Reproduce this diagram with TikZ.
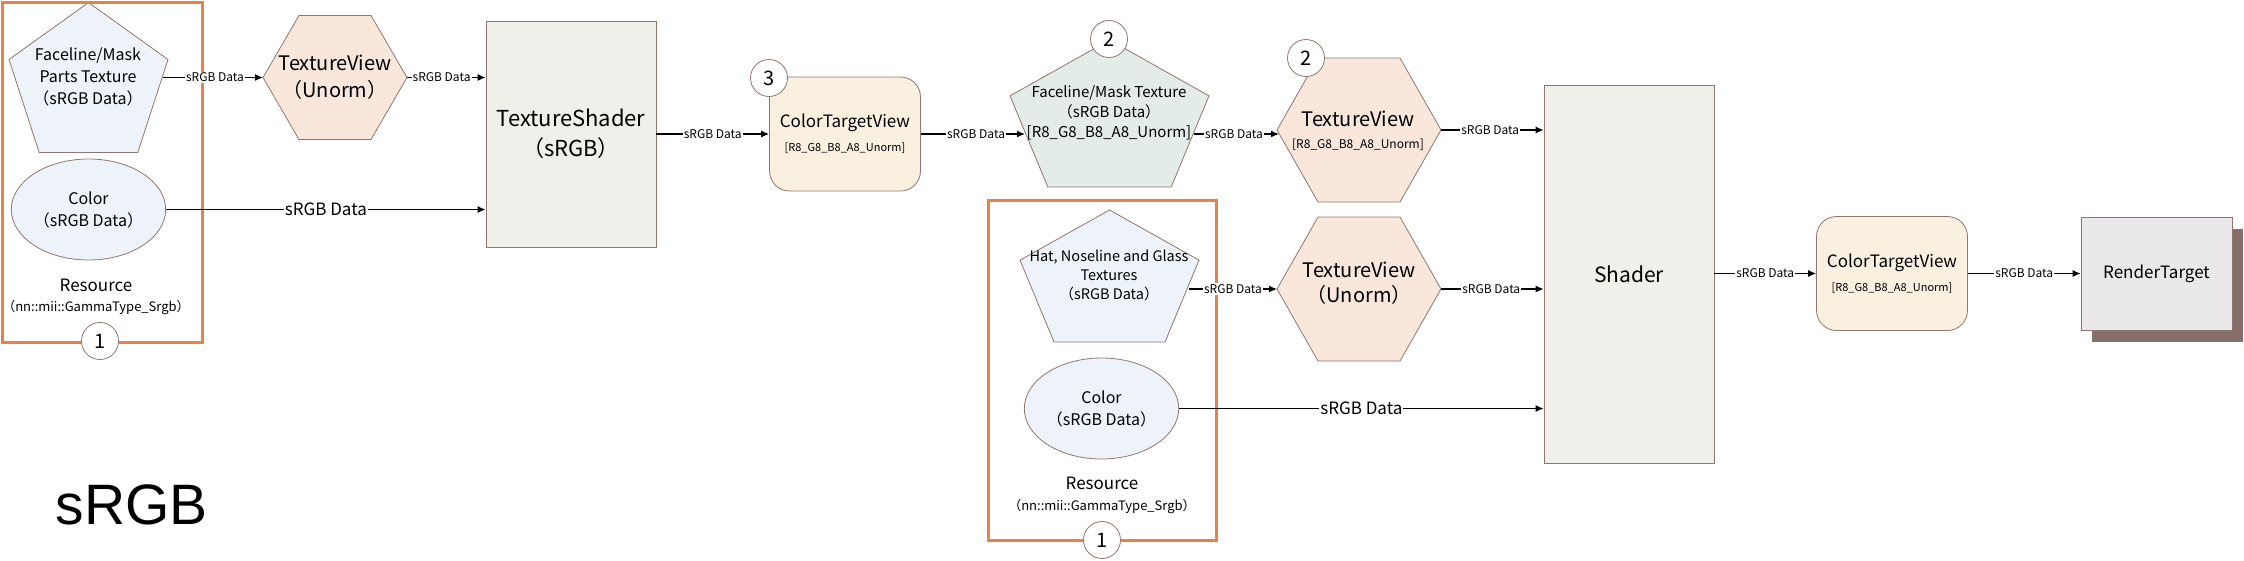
\documentclass[tikz,border=0pt]{standalone}
\usepackage{fontspec}
\setmainfont{Noto Sans CJK JP}
\newfontfamily\arialf{Liberation Sans}
\usetikzlibrary{arrows.meta,calc,shapes.geometric}
\pgfdeclarelayer{background}
\pgfsetlayers{background,main}
\definecolor{edgec}{HTML}{8C7870}
\definecolor{resorange}{HTML}{E6824A}
\definecolor{fillblue}{HTML}{EEF3FA}
\definecolor{fillgreen}{HTML}{E4ECE8}
\definecolor{fillpeach}{HTML}{F9E7DC}
\definecolor{fillgray}{HTML}{F0F0EA}
\definecolor{fillcream}{HTML}{FAF0E0}
\definecolor{fillrt}{HTML}{EAE8EA}
\definecolor{shadowc}{HTML}{857068}
\newcommand\fs[2]{\fontsize{#1}{#2}\selectfont}
\newcommand\drawpent[2]{%
  \begin{pgfonlayer}{background}
  \draw[shp, fill=#2] (#1.north) -- ($(#1.north west)!0.38!(#1.south west)$)
    -- ($(#1.south west)!0.19!(#1.south east)$) -- ($(#1.south west)!0.81!(#1.south east)$)
    -- ($(#1.north east)!0.38!(#1.south east)$) -- cycle;
  \end{pgfonlayer}}
\newcommand\drawhex[2]{%
  \begin{pgfonlayer}{background}
  \draw[shp, fill=#2] (#1.west) -- ($(#1.north west)!0.25!(#1.north east)$)
    -- ($(#1.north west)!0.75!(#1.north east)$) -- (#1.east)
    -- ($(#1.south west)!0.75!(#1.south east)$) -- ($(#1.south west)!0.25!(#1.south east)$) -- cycle;
  \end{pgfonlayer}}
\begin{document}
\begin{tikzpicture}[x=1pt,y=-1pt,
  shp/.style={draw=edgec, line width=0.8pt},
  resbox/.style={draw=resorange, line width=3pt, rectangle, inner sep=0pt},
  hold/.style={rectangle, inner sep=0pt, outer sep=0pt},
  txt/.style={align=center, inner sep=0pt},
  boxn/.style={shp, rectangle, align=center, inner sep=0pt},
  ctvn/.style={boxn, fill=fillcream, rounded corners=20pt, minimum width=151pt, minimum height=114pt, font=\fs{17}{24}},
  elln/.style={shp, ellipse, fill=fillblue, minimum width=151pt, minimum height=101pt, inner sep=0pt, align=center, font=\fs{16}{22}},
  num/.style={circle, draw=edgec, line width=0.8pt, fill=white, minimum size=37pt, inner sep=0pt, font=\fs{20}{24}},
  arr/.style={draw=black, line width=1.2pt, -{Latex[length=8pt,width=7pt]}},
  lbl/.style={fill=white, inner sep=1pt, font=\fs{12}{14}},
  lblbig/.style={fill=white, inner sep=1pt, font=\fs{17}{20}},
]
\useasboundingbox (0,0) rectangle (2244,560);

% resource frames
\node[resbox, minimum width=200pt, minimum height=340pt] (res1) at (102,172) {};
\node[resbox, minimum width=228pt, minimum height=340pt] (res2) at (1102,370) {};

% left group
\node[hold, minimum width=159pt, minimum height=150pt] (pent1) at (88.5,77.5) {};
\drawpent{pent1}{fillblue}
\node[txt, font=\fs{16}{22}] (pent1t) at (88,77) {Faceline/Mask\\Parts Texture\\（sRGB Data）};
\node[elln] (ell1) at (88.5,209.5) {Color\\（sRGB Data）};
\node[txt, font=\fs{17}{20}] (res1a) at (96,285) {Resource};
\node[txt, font=\fs{13}{15}] (res1b) at (96,308) {（nn::mii::GammaType\_Srgb）};

\node[hold, minimum width=144pt, minimum height=124pt] (hex1) at (335,77.5) {};
\drawhex{hex1}{fillpeach}
\node[txt, font=\fs{20}{27}] (hex1t) at (335,77) {TextureView\\（Unorm）};

\node[boxn, fill=fillgray, minimum width=170pt, minimum height=226pt, font=\fs{22}{30}] (tsh) at (571,134) {TextureShader\\（sRGB）};

\node[ctvn] (ctv1) at (845,134) {ColorTargetView\\{\fs{11}{13}[R8\_G8\_B8\_A8\_Unorm]}};

% middle upper
\node[hold, minimum width=199pt, minimum height=147pt] (pent2) at (1109.5,113.5) {};
\drawpent{pent2}{fillgreen}
\node[txt, font=\fs{15}{20}] (pent2t) at (1109,113) {Faceline/Mask Texture\\（sRGB Data）\\{}[R8\_G8\_B8\_A8\_Unorm]};

\node[hold, minimum width=164pt, minimum height=144pt] (hex2) at (1359,130) {};
\drawhex{hex2}{fillpeach}
\node[txt, font=\fs{20}{22}] (hex2t) at (1358,131) {TextureView\\{\fs{12}{14}[R8\_G8\_B8\_A8\_Unorm]}};

% middle lower group
\node[hold, minimum width=179pt, minimum height=132pt] (pent3) at (1109.5,276) {};
\drawpent{pent3}{fillblue}
\node[txt, font=\fs{14.5}{19}] (pent3t) at (1109,275) {Hat, Noseline and Glass\\Textures\\（sRGB Data）};
\node[elln] (ell2) at (1101.5,408.5) {Color\\（sRGB Data）};
\node[txt, font=\fs{17}{20}] (res2a) at (1102,483) {Resource};
\node[txt, font=\fs{13}{15}] (res2b) at (1102,507) {（nn::mii::GammaType\_Srgb）};

\node[hold, minimum width=164pt, minimum height=144pt] (hex3) at (1359,289) {};
\drawhex{hex3}{fillpeach}
\node[txt, font=\fs{20}{25}] (hex3t) at (1359,283) {TextureView\\（Unorm）};

% right part
\node[boxn, fill=fillgray, minimum width=170pt, minimum height=378pt, font=\fs{21}{24}] (shader) at (1629,274) {Shader};
\node[ctvn] (ctv2) at (1892,273.5) {ColorTargetView\\{\fs{11}{13}[R8\_G8\_B8\_A8\_Unorm]}};
\node[boxn, fill=fillrt, minimum width=151pt, minimum height=113pt, font=\fs{17}{20}] (rt) at (2156.5,273.5) {RenderTarget};
\begin{pgfonlayer}{background}
\fill[shadowc] ([xshift=11pt,yshift=-12pt]rt.south west) rectangle ([xshift=11pt,yshift=-12pt]rt.north east);
\end{pgfonlayer}

% big caption
\node[txt, font=\arialf\fs{57}{60}] (cap) at (132,505) {sRGB};

% connectors
\draw[arr] ([xshift=-5pt]pent1.east) -- node[lbl,pos=0.52]{sRGB Data} (hex1.west);
\draw[arr] (hex1.east) -- node[lbl,pos=0.44]{sRGB Data} (hex1.east -| tsh.west);
\draw[arr] (ell1.east) -- node[lblbig]{sRGB Data} (ell1.east -| tsh.west);
\draw[arr] (tsh.east) -- node[lbl]{sRGB Data} (ctv1.west);
\draw[arr] (ctv1.east) -- node[lbl,pos=0.53]{sRGB Data} ([xshift=15pt]pent2.west |- ctv1.east);
\draw[arr] ([xshift=-15pt]pent2.east |- ctv1.east) -- node[lbl,pos=0.47]{sRGB Data} ([xshift=2pt]hex2.west |- ctv1.east);
\draw[arr] (hex2.east) -- node[lbl,pos=0.48]{sRGB Data} (hex2.east -| shader.west);
\draw[arr] ([xshift=-10pt]pent3.east |- hex3.west) -- node[lbl]{sRGB Data} (hex3.west);
\draw[arr] (hex3.east) -- node[lbl,pos=0.49]{sRGB Data} (hex3.east -| shader.west);
\draw[arr] (ell2.east) -- node[lblbig]{sRGB Data} (ell2.east -| shader.west);
\draw[arr] (shader.east |- ctv2.west) -- node[lbl]{sRGB Data} (ctv2.west);
\draw[arr] (ctv2.east) -- node[lbl]{sRGB Data} (rt.west);

% numbered markers
\node[num] (n1a) at (100,341) {1};
\node[num] (n1b) at (1102,540) {1};
\node[num] (n3) at (769,78) {3};
\node[num] (n2a) at (1109,39) {2};
\node[num] (n2b) at (1306,58) {2};
\end{tikzpicture}
\end{document}
